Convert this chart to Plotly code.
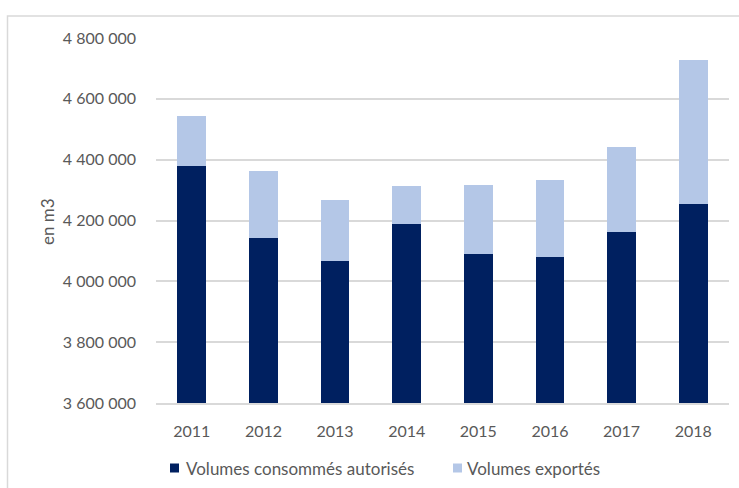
import plotly.graph_objects as go

# Volumes d'eau par année (m3)
annees = ["2011", "2012", "2013", "2014", "2015", "2016", "2017", "2018"]
consommes_autorises = [4380000, 4143000, 4066000, 4189000, 4091000, 4081000, 4162000, 4253000]
exportes = [165000, 221000, 202000, 126000, 226000, 253000, 281000, 475000]

series_noms = ["Volumes consommés autorisés", "Volumes exportés"]
series_couleurs = ["#002060", "#B4C7E7"]

y_ticks = [3600000, 3800000, 4000000, 4200000, 4400000, 4600000, 4800000]
y_tick_labels = ["3 600 000", "3 800 000", "4 000 000", "4 200 000",
                 "4 400 000", "4 600 000", "4 800 000"]

TEXT = "#595959"
GRID = "#D9D9D9"
FONT = "Lato"
FS = 16
FS_LEG = 17

fig = go.Figure()
for nom, couleur, valeurs in zip(series_noms, series_couleurs,
                                 [consommes_autorises, exportes]):
    fig.add_trace(go.Bar(
        x=annees, y=valeurs, name=nom,
        marker=dict(color=couleur, line=dict(width=0)),
    ))

W, H = 739, 488
L, R, T, B = 156, 10, 38, 85
pw, ph = W - L - R, H - T - B


def px_x(x):
    return (x - L) / pw


def px_y(y):
    return (H - B - y) / ph


# Légende sous le graphique : carré de couleur + libellé
legend_y = 468
legend_items = [(170, 184), (453, 465)]
shapes = []
annotations = []
for (sx, tx), nom, couleur in zip(legend_items, series_noms, series_couleurs):
    shapes.append(dict(
        type="rect", xref="paper", yref="paper",
        x0=px_x(sx), x1=px_x(sx + 9),
        y0=px_y(legend_y + 4.5), y1=px_y(legend_y - 4.5),
        fillcolor=couleur, line=dict(width=0),
    ))
    annotations.append(dict(
        text=nom, xref="paper", yref="paper",
        x=px_x(tx), y=px_y(legend_y), xanchor="left", yanchor="middle",
        showarrow=False, font=dict(family=FONT, size=FS_LEG, color=TEXT),
    ))

# Titre de l'axe vertical
annotations.append(dict(
    text="en m3", xref="paper", yref="paper",
    x=px_x(48), y=px_y(222), xanchor="center", yanchor="middle",
    textangle=-90, showarrow=False,
    font=dict(family=FONT, size=FS_LEG, color=TEXT),
))

# Cadre de la zone du graphique
shapes.append(dict(
    type="rect", xref="paper", yref="paper",
    x0=px_x(7.5), x1=px_x(W + 20),
    y0=px_y(H + 20), y1=px_y(16),
    line=dict(color=GRID, width=1.5), fillcolor="rgba(0,0,0,0)",
    layer="below",
))

fig.update_layout(
    width=W, height=H,
    barmode="stack",
    bargap=0.6,
    paper_bgcolor="white",
    plot_bgcolor="white",
    margin=dict(l=L, r=R, t=T, b=B),
    font=dict(family=FONT, size=FS, color=TEXT),
    showlegend=False,
    xaxis=dict(
        showgrid=False,
        showline=True, linecolor=GRID, linewidth=1.5,
        ticks="", ticklabelstandoff=13,
        tickfont=dict(family=FONT, size=FS, color=TEXT),
    ),
    yaxis=dict(
        range=[3600000, 4800000],
        tickvals=y_ticks, ticktext=y_tick_labels,
        showgrid=True, gridcolor=GRID, gridwidth=1.5,
        zeroline=False, showline=False,
        ticks="", ticklabelstandoff=19,
        tickfont=dict(family=FONT, size=FS, color=TEXT),
    ),
    shapes=shapes,
    annotations=annotations,
)

fig.write_html("out.html")
